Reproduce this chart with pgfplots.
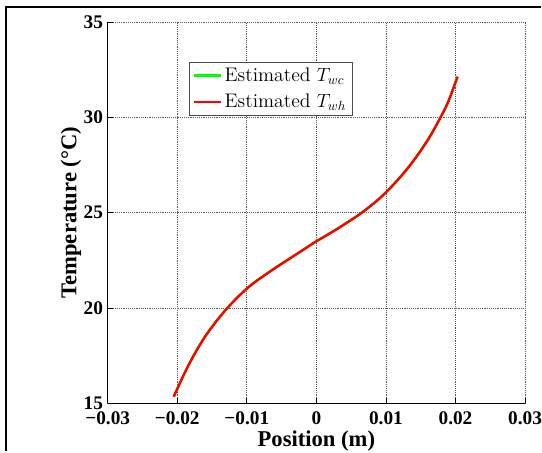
\documentclass[border=0pt]{standalone}
\usepackage{fontspec}
\usepackage{pgfplots}
\pgfplotsset{compat=1.18}
\newfontfamily\tnr{Liberation Serif}
\pgfplotstableread{
x T
-0.0205 15.35
-0.0190 16.55
-0.0175 17.60
-0.0160 18.50
-0.0145 19.25
-0.0130 19.92
-0.0115 20.50
-0.0100 21.02
-0.0085 21.45
-0.0070 21.83
-0.0055 22.20
-0.0040 22.555
-0.0025 22.91
-0.0010 23.265
0.0000 23.50
0.0015 23.82
0.0030 24.15
0.0045 24.50
0.0060 24.86
0.0075 25.27
0.0090 25.72
0.0105 26.25
0.0120 26.84
0.0135 27.50
0.0150 28.25
0.0165 29.10
0.0180 30.10
0.0190 30.85
0.0203 32.13
}\datatab
\begin{document}
\begin{tikzpicture}
\begin{axis}[
  scale only axis, width=314pt, height=287pt,
  xmin=-0.03, xmax=0.03, ymin=15, ymax=35,
  axis x line*=bottom, axis y line*=left,
  axis line style={line width=0.6pt, -},
  scaled x ticks=false,
  xtick={-0.03,-0.02,-0.01,0,0.01,0.02,0.03},
  xticklabels={−0.03,−0.02,−0.01,0,0.01,0.02,0.03},
  ytick={15,20,25,30,35},
  yticklabels={15,20,25,30,35},
  ticklabel style={font=\tnr\bfseries\fontsize{14.5}{16}\selectfont},
  xticklabel style={yshift=-3pt},
  tick align=inside, major tick length=4pt, tick style={black, line width=0.5pt},
  grid=major, major grid style={densely dotted, black!65, line width=0.45pt},
  xlabel={Position (m)}, ylabel={Temperature (°C)},
  label style={font=\tnr\bfseries\fontsize{17}{20}\selectfont},
  xlabel style={yshift=3pt},
  ylabel style={yshift=-5pt},
  legend style={at={(0.196,0.896)}, anchor=north west, draw=black!70,
    font=\fontsize{14.8}{17}\selectfont, inner sep=2.5pt, row sep=4pt},
  legend cell align=left,
  legend image code/.code={\draw[#1] (0cm,0cm) -- (0.7cm,0cm);},
]
\addplot[green, line width=1.8pt, smooth, tension=0.5] table[x=x,y=T] {\datatab};
\addlegendentry{Estimated $T_{wc}$}
\addplot[red, line width=1.8pt, smooth, tension=0.5] table[x=x,y=T] {\datatab};
\addlegendentry{Estimated $T_{wh}$}
\end{axis}
\pgfresetboundingbox
\path ([xshift=-81pt,yshift=-35.25pt]current axis.south west) rectangle ([xshift=11.25pt,yshift=16.5pt]current axis.north east);
\draw[line width=1.5pt] ([xshift=-76.5pt,yshift=-36pt]current axis.south west) -- ([xshift=-76.5pt,yshift=11.25pt]current axis.north west) -- ([xshift=12pt,yshift=11.25pt]current axis.north east);
\end{tikzpicture}
\end{document}
